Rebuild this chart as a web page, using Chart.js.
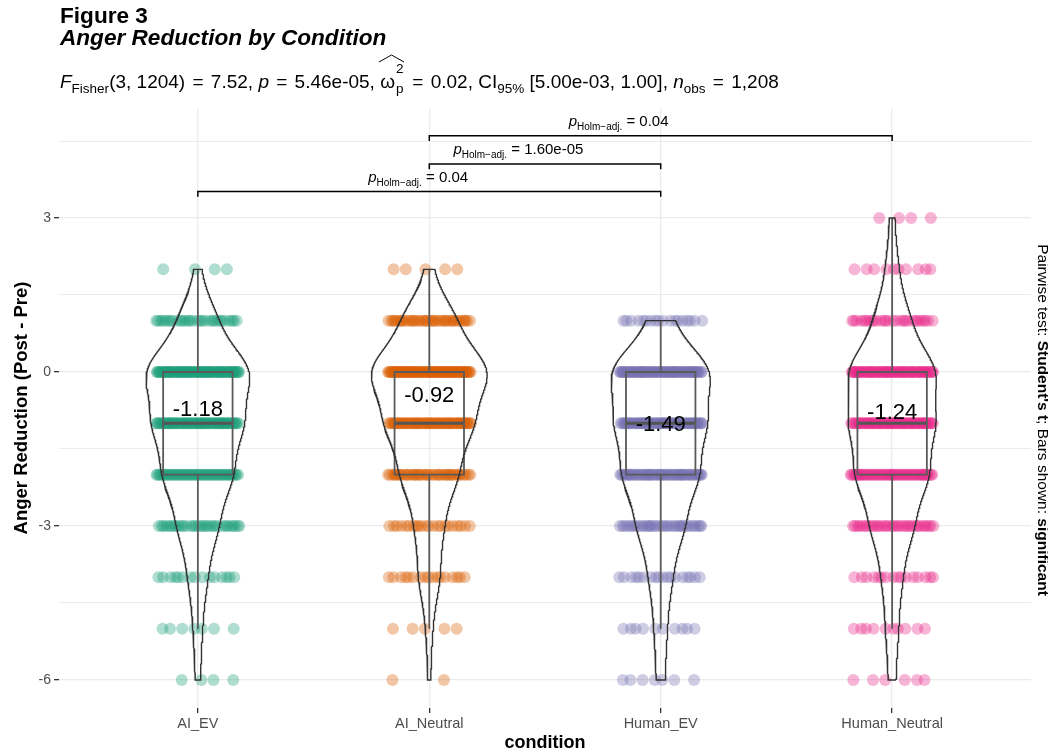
<!DOCTYPE html>
<html>
<head>
<meta charset="utf-8">
<script src="https://cdn.jsdelivr.net/npm/chart.js@4.4.1/dist/chart.umd.min.js"></script>
<style>
html, body { margin: 0; padding: 0; background: #fff; }
body { width: 1048px; height: 754px; position: relative; overflow: hidden; font-family: "Liberation Sans", Arial, sans-serif; }
#chart { position: absolute; left: 0; top: 0; }
.t1 { position: absolute; left: 60px; top: 5px; font-size: 22.6px; font-weight: bold; line-height: 22px; }
.t2 { position: absolute; left: 60px; top: 27px; font-size: 22.6px; font-weight: bold; font-style: italic; line-height: 22px; }
.sub { position: absolute; left: 60px; top: 70px; font-size: 19px; line-height: 20px; white-space: nowrap; }
.sub sub { font-size: 13.5px; vertical-align: -5px; line-height: 0; }
.eq { margin: 0 2px; }
.wh { position: relative; }
.stk { position: relative; display: inline-block; width: 10px; height: 18px; }
.stk b { position: absolute; left: 1px; font-weight: normal; font-size: 13.5px; line-height: 13px; }
.s2 { top: -8px; }
.sp { top: 12px; }
.hat { position: absolute; left: -2px; top: -17px; }
</style>
</head>
<body>
<canvas id="chart" width="1048" height="754"></canvas>
<div class="t1">Figure 3</div>
<div class="t2">Anger Reduction by Condition</div>
<div class="sub"><i>F</i><sub>Fisher</sub>(3, 1204)<span class="eq"> = </span>7.52, <i>p</i><span class="eq"> = </span>5.46e-05, <span class="wh">ω<span class="stk"><b class="s2">2</b><b class="sp">p</b></span><svg class="hat" width="27" height="9"><polyline points="1,8 13.5,1 26,8" fill="none" stroke="#000" stroke-width="1"/></svg></span><span class="eq"> = </span>0.02, CI<sub>95%</sub> [5.00e-03, 1.00], <i>n</i><sub>obs</sub><span class="eq"> = </span>1,208</div>
<script>
// données
const conditions = ['AI_EV', 'AI_Neutral', 'Human_EV', 'Human_Neutral'];
const scoreLevels = [3, 2, 1, 0, -1, -2, -3, -4, -5, -6];
// nombre de participants par niveau de score
const countsAIEV         = [0, 4, 30, 84, 71, 55, 32, 15, 7, 4];
const countsAINeutral    = [0, 5, 42, 95, 69, 45, 22, 17, 5, 2];
const countsHumanEV      = [0, 0, 18, 80, 71, 60, 37, 18, 10, 7];
const countsHumanNeutral = [4, 10, 28, 70, 67, 58, 34, 16, 10, 6];
const meanLabels = [-1.18, -0.92, -1.49, -1.24];
const yTicks = [-6, -3, 0, 3];
const pairFrom = [0, 1, 1];
const pairTo = [2, 2, 3];
const pairP = ['0.04', '1.60e-05', '0.04'];

// style
const colors = ['#1B9E77', '#D95F02', '#7570B3', '#E7298A'];
const FONT = '"Liberation Sans", Arial, sans-serif';
const BRACKET_Y = [3.515, 4.05, 4.6];
const LABEL_X = [0.952, 1.385, 1.818];
const MEAN_LABEL_LIFT = 0.45;
const JITTER = 0.18;
const BOX_HALF = 0.15;
const VIOLIN_HALF = 0.25;
const BW_ADJUST = 1.15;

Chart.defaults.font.family = FONT;

function rgba(hex, a) {
    const n = parseInt(hex.slice(1), 16);
    return `rgba(${n >> 16}, ${(n >> 8) & 255}, ${n & 255}, ${a})`;
}

function quantile(sorted, p) {
    const h = (sorted.length - 1) * p;
    const lo = Math.floor(h);
    const hi = Math.min(lo + 1, sorted.length - 1);
    return sorted[lo] + (h - lo) * (sorted[hi] - sorted[lo]);
}

const groupCounts = [countsAIEV, countsAINeutral, countsHumanEV, countsHumanNeutral];

// densité (noyau gaussien, bw nrd0 ajustée) pour chaque groupe
const groups = groupCounts.map(counts => {
    const vals = [];
    counts.forEach((c, j) => { for (let k = 0; k < c; k++) vals.push(scoreLevels[j]); });
    vals.sort((a, b) => a - b);
    const n = vals.length;
    const mean = vals.reduce((s, v) => s + v, 0) / n;
    const sd = Math.sqrt(vals.reduce((s, v) => s + (v - mean) ** 2, 0) / (n - 1));
    const q1 = quantile(vals, 0.25), med = quantile(vals, 0.5), q3 = quantile(vals, 0.75);
    const iqr = q3 - q1;
    const bw = BW_ADJUST * 0.9 * Math.min(sd, iqr / 1.34) * Math.pow(n, -0.2);
    const lo = vals[0], hi = vals[n - 1];
    const dens = [];
    for (let i = 0; i < 512; i++) {
        const y = lo + (hi - lo) * i / 511;
        let s = 0;
        counts.forEach((c, j) => {
            const z = (y - scoreLevels[j]) / bw;
            s += c * Math.exp(-0.5 * z * z);
        });
        dens.push({ y, d: s / (n * bw * Math.sqrt(2 * Math.PI)) });
    }
    const upper = Math.max(...vals.filter(v => v <= q3 + 1.5 * iqr));
    const lower = Math.min(...vals.filter(v => v >= q1 - 1.5 * iqr));
    return { counts, q1, med, q3, upper, lower, dens };
});
const maxDens = Math.max(...groups.map(g => Math.max(...g.dens.map(p => p.d))));

function line(data, color, width, order) {
    return { data, showLine: true, borderColor: color, borderWidth: width, pointRadius: 0, fill: false, tension: 0, order };
}

const datasets = [];
groups.forEach((gr, g) => {
    // points
    const pts = [];
    gr.counts.forEach((c, j) => {
        for (let k = 0; k < c; k++) {
            const u = ((k + 1) * 0.6180339887 + g * 0.37 + j * 0.23) % 1;
            pts.push({ x: g + JITTER * (2 * u - 1), y: scoreLevels[j] });
        }
    });
    datasets.push({ data: pts, backgroundColor: rgba(colors[g], 0.35), pointRadius: 6, pointBorderWidth: 0, order: 3 });

    // boîte
    datasets.push(line([
        { x: g - BOX_HALF, y: gr.q1 }, { x: g + BOX_HALF, y: gr.q1 },
        { x: g + BOX_HALF, y: gr.q3 }, { x: g - BOX_HALF, y: gr.q3 },
        { x: g - BOX_HALF, y: gr.q1 }
    ], '#5a5a5a', 1.8, 2));
    datasets.push(line([{ x: g - BOX_HALF, y: gr.med }, { x: g + BOX_HALF, y: gr.med }], '#555', 3, 2));
    datasets.push(line([{ x: g, y: gr.q3 }, { x: g, y: gr.upper }], '#5a5a5a', 1.8, 2));
    datasets.push(line([{ x: g, y: gr.q1 }, { x: g, y: gr.lower }], '#5a5a5a', 1.8, 2));

    // violon
    const right = gr.dens.map(p => ({ x: g + VIOLIN_HALF * p.d / maxDens, y: p.y }));
    const left = gr.dens.slice().reverse().map(p => ({ x: g - VIOLIN_HALF * p.d / maxDens, y: p.y }));
    datasets.push(line(right.concat(left, [right[0]]), '#333', 1.4, 1));
});

// crochets des comparaisons
pairP.forEach((p, i) => {
    const yb = BRACKET_Y[i];
    datasets.push(line([
        { x: pairFrom[i], y: yb - 0.1 }, { x: pairFrom[i], y: yb },
        { x: pairTo[i], y: yb }, { x: pairTo[i], y: yb - 0.1 }
    ], '#000', 1.5, 0));
});

const annotations = {
    id: 'annotations',
    afterDatasetsDraw(chart) {
        const { ctx, scales: { x, y } } = chart;
        ctx.save();
        ctx.fillStyle = '#000';

        // moyennes
        ctx.font = '22px ' + FONT;
        ctx.textAlign = 'center';
        ctx.textBaseline = 'middle';
        meanLabels.forEach((m, i) => {
            ctx.fillText(m.toFixed(2), x.getPixelForValue(i), y.getPixelForValue(m + MEAN_LABEL_LIFT));
        });

        // p ajustées
        ctx.textAlign = 'left';
        ctx.textBaseline = 'alphabetic';
        pairP.forEach((p, i) => {
            const parts = [
                { t: 'p', f: 'italic 15px ' + FONT, dy: 0 },
                { t: 'Holm\u2212adj.', f: '10px ' + FONT, dy: 4 },
                { t: ' = ' + p, f: '15px ' + FONT, dy: 0 }
            ];
            let w = 0;
            parts.forEach(pt => { ctx.font = pt.f; pt.w = ctx.measureText(pt.t).width; w += pt.w; });
            let px = x.getPixelForValue(LABEL_X[i]) - w / 2;
            const by = y.getPixelForValue(BRACKET_Y[i]) - 10;
            parts.forEach(pt => { ctx.font = pt.f; ctx.fillText(pt.t, px, by + pt.dy); px += pt.w; });
        });
        ctx.restore();

        // légende à droite
        ctx.save();
        ctx.translate(1038, 420);
        ctx.rotate(Math.PI / 2);
        ctx.fillStyle = '#000';
        const cap = [
            { t: 'Pairwise test: ', f: '15.5px ' + FONT },
            { t: "Student's t", f: 'bold 15.5px ' + FONT },
            { t: '; Bars shown: ', f: '15.5px ' + FONT },
            { t: 'significant', f: 'bold 15.5px ' + FONT }
        ];
        let cw = 0;
        cap.forEach(pt => { ctx.font = pt.f; pt.w = ctx.measureText(pt.t).width; cw += pt.w; });
        let cx = -cw / 2;
        cap.forEach(pt => { ctx.font = pt.f; ctx.fillText(pt.t, cx, 0); cx += pt.w; });
        ctx.restore();
    }
};

new Chart(document.getElementById('chart').getContext('2d'), {
    type: 'scatter',
    data: { datasets },
    options: {
        responsive: false,
        animation: false,
        events: [],
        layout: { padding: { top: 108, right: 17, left: 0, bottom: 0 } },
        plugins: { legend: { display: false }, tooltip: { enabled: false } },
        scales: {
            x: {
                type: 'linear', min: -0.6, max: 3.6,
                afterBuildTicks: s => { s.ticks = conditions.map((c, i) => ({ value: i })); },
                afterFit: s => { s.height = 46; },
                ticks: { callback: v => conditions[v], color: '#4d4d4d', font: { size: 14.5 }, padding: 2, maxRotation: 0, autoSkip: false },
                grid: { color: '#ebebeb', lineWidth: 1.3, tickLength: 5, tickColor: '#333' },
                border: { display: false },
                title: { display: true, text: 'condition', color: '#000', font: { size: 18, weight: 'bold' }, padding: 0 }
            },
            y: {
                type: 'linear', min: -6.546, max: 5.143,
                afterBuildTicks: s => { s.ticks = [-6, -4.5, -3, -1.5, 0, 1.5, 3, 4.5].map(v => ({ value: v })); },
                afterFit: s => { s.width = 59; },
                ticks: { callback: v => yTicks.includes(v) ? String(v) : '', color: '#4d4d4d', font: { size: 14 }, padding: 3 },
                grid: {
                    color: '#ebebeb',
                    lineWidth: c => yTicks.includes(c.tick.value) ? 1.3 : 1,
                    tickLength: 5,
                    tickColor: c => yTicks.includes(c.tick.value) ? '#333' : 'rgba(0,0,0,0)'
                },
                border: { display: false },
                title: { display: true, text: 'Anger Reduction (Post - Pre)', color: '#000', font: { size: 18.5, weight: 'bold' }, padding: { top: 11, bottom: 0 } }
            }
        }
    },
    plugins: [annotations]
});
</script>
</body>
</html>
